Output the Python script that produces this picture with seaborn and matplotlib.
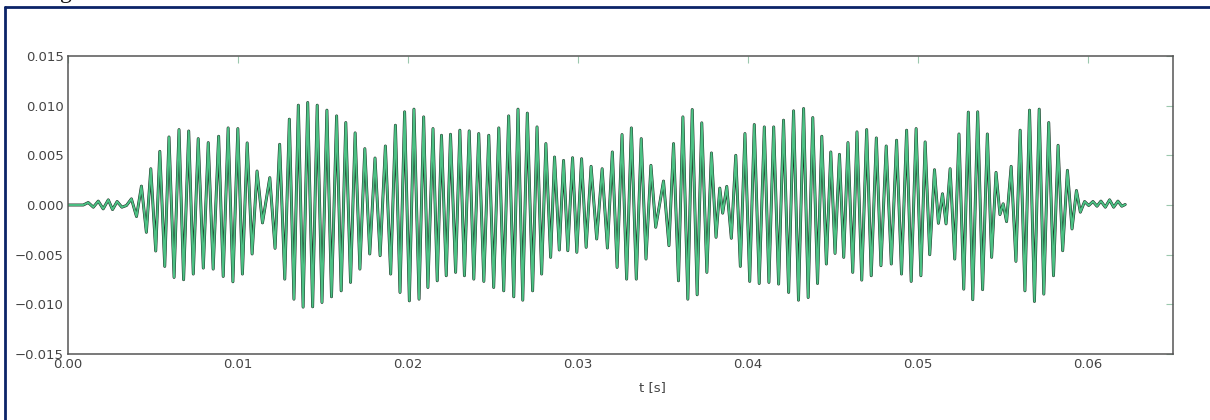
import numpy as np
import matplotlib
matplotlib.use("Agg")
import matplotlib.pyplot as plt
import matplotlib.patheffects as pe
from matplotlib.lines import Line2D
import seaborn as sns

# extrema of the recorded signal, read off the picture
# time in ms, amplitude in units of 1e-3
t_ms = [
    0.00, 0.90, 1.19, 1.49, 1.78, 2.07, 2.37, 2.62, 2.89, 3.17, 3.44, 3.73, 4.03, 4.32,
    4.61, 4.87, 5.16, 5.40, 5.69, 5.94, 6.24, 6.53, 6.80, 7.10, 7.37, 7.66, 7.96, 8.25,
    8.54, 8.86, 9.13, 9.42, 9.70, 9.99, 10.26, 10.54, 10.83, 11.12, 11.44, 11.87, 12.18,
    12.45, 12.75, 13.02, 13.29, 13.55, 13.83, 14.10, 14.39, 14.66, 14.94, 15.23, 15.50,
    15.80, 16.07, 16.34, 16.62, 16.89, 17.17, 17.46, 17.75, 18.06, 18.36, 18.67, 18.98,
    19.26, 19.53, 19.80, 20.08, 20.35, 20.65, 20.92, 21.17, 21.47, 21.72, 21.97, 22.25,
    22.50, 22.80, 23.05, 23.32, 23.60, 23.87, 24.16, 24.46, 24.75, 25.04, 25.34, 25.63,
    25.92, 26.22, 26.47, 26.75, 27.02, 27.33, 27.59, 27.86, 28.11, 28.39, 28.62, 28.90,
    29.15, 29.40, 29.68, 29.93, 30.21, 30.48, 30.77, 31.10, 31.42, 31.73, 32.02, 32.30,
    32.59, 32.86, 33.14, 33.43, 33.72, 34.00, 34.29, 34.57, 35.03, 35.35, 35.62, 35.91,
    36.17, 36.46, 36.72, 37.01, 37.28, 37.58, 37.85, 38.12, 38.34, 38.51, 38.75, 39.02,
    39.28, 39.55, 39.82, 40.10, 40.37, 40.66, 40.96, 41.23, 41.51, 41.80, 42.09, 42.39,
    42.68, 42.97, 43.27, 43.54, 43.81, 44.09, 44.34, 44.61, 44.87, 45.12, 45.38, 45.63,
    45.88, 46.16, 46.41, 46.69, 46.98, 47.25, 47.55, 47.82, 48.13, 48.43, 48.74, 49.03,
    49.33, 49.60, 49.89, 50.17, 50.42, 50.69, 50.97, 51.20, 51.44, 51.65, 51.89, 52.16,
    52.41, 52.69, 52.96, 53.22, 53.51, 53.80, 54.08, 54.33, 54.59, 54.82, 55.01, 55.21,
    55.48, 55.76, 56.01, 56.29, 56.56, 56.85, 57.13, 57.40, 57.69, 57.97, 58.24, 58.51,
    58.79, 59.06, 59.32, 59.55, 59.80, 60.04, 60.29, 60.53, 60.76, 61.02, 61.27, 61.51,
    61.76, 61.99, 62.19,
]
amp_milli = [
    0.00, 0.00, 0.25, -0.22, 0.39, -0.39, 0.52, -0.46, 0.35, -0.22, -0.05, 0.62, -1.16, 1.90,
    -2.75, 3.65, -4.63, 5.40, -6.18, 6.85, -7.29, 7.59, -7.52, 7.45, -6.95, 6.68, -6.35, 6.28,
    -6.45, 6.92, -7.19, 7.76, -7.73, 7.69, -6.95, 6.25, -4.93, 3.42, -1.80, 2.75, -4.36,
    6.11, -7.46, 8.64, -9.48, 10.05, -10.28, 10.32, -10.25, 10.05, -9.81, 9.55, -9.24,
    8.97, -8.64, 8.30, -7.79, 7.26, -6.45, 5.67, -4.93, 4.73, -5.10, 5.94, -6.95,
    8.03, -8.80, 9.38, -9.65, 9.65, -9.48, 8.87, -8.30, 7.69, -7.63, 7.02, -7.12,
    7.12, -6.78, 7.53, -7.12, 7.46, -7.46, 7.19, -7.69, 7.02, -8.30, 7.76, -8.64,
    8.97, -9.24, 9.65, -9.58, 9.25, -8.64, 7.86, -6.95, 6.18, -5.27, 4.83, -4.53,
    4.49, -4.60, 4.76, -4.76, 4.66, -4.26, 3.89, -3.42, 3.65, -4.33, 5.34, -6.28,
    7.09, -7.46, 7.76, -7.46, 6.68, -5.44, 3.99, -2.24, 2.41, -4.09, 6.18, -7.63,
    8.87, -9.48, 9.61, -9.04, 8.27, -6.78, 5.24, -3.25, 1.70, -0.82, 1.87, -3.35,
    5.00, -6.18, 7.19, -7.69, 8.10, -7.90, 7.86, -7.79, 7.86, -7.96, 8.54, -8.80,
    9.48, -9.58, 9.71, -9.31, 8.80, -7.90, 6.92, -5.94, 5.34, -4.87, 5.10, -5.27,
    6.28, -6.78, 7.36, -7.56, 7.59, -7.12, 6.75, -6.11, 5.94, -5.94, 6.52, -6.95,
    7.53, -7.69, 7.69, -7.12, 6.35, -5.00, 3.55, -1.84, 1.13, -1.90, 3.65, -5.44,
    7.15, -8.47, 9.35, -9.53, 9.38, -8.52, 7.15, -5.27, 3.28, -0.96, 0.12, -1.67,
    3.89, -5.67, 7.53, -8.64, 9.55, -9.71, 9.65, -8.97, 8.30, -7.12, 6.01, -4.60,
    3.49, -2.41, 1.46, -0.72, 0.35, -0.05, 0.35, -0.12, 0.39, -0.22, 0.52, -0.22,
    0.39, -0.12, 0.05,
]

x_ticks = [0.00, 0.01, 0.02, 0.03, 0.04, 0.05, 0.06]
y_ticks = [-0.015, -0.010, -0.005, 0.000, 0.005, 0.010, 0.015]

t = np.array(t_ms) / 1000.0
sig = np.array(amp_milli) / 1000.0

sns.set_style("white")
plt.rcParams['font.family'] = ['DejaVu Sans']

fig = plt.figure(figsize=(12.1, 4.2), dpi=100)
ax = fig.add_axes([68 / 1210, 1 - 354 / 420, (1173 - 68) / 1210, (354 - 56) / 420])

sns.lineplot(x=t, y=sig, ax=ax, sort=False, estimator=None, color='#4cc184',
             linewidth=1.4,
             path_effects=[pe.Stroke(linewidth=2.1, foreground='#1c2b22'), pe.Normal()])

ax.set_xlim(0, 0.065)
ax.set_ylim(-0.015, 0.015)
ax.set_xticks(x_ticks)
ax.set_xticklabels([f"{v:.2f}" for v in x_ticks])
ax.set_yticks(y_ticks)
ax.set_yticklabels([f"{v:.3f}".replace("-", "\u2212") for v in y_ticks])
ax.tick_params(direction='in', top=True, right=True, length=5, width=0.8,
               color='#9cc8ae', labelsize=9.5, labelcolor='#444444', pad=3)
for s in ax.spines.values():
    s.set_color('#555555')
    s.set_linewidth(1.1)

ax.set_xlabel("t [s]", fontsize=9.5, color='#444444')
ax.xaxis.set_label_coords(0.529, -0.09)
ax.set_ylabel("")

# page frame and cropped caption letter
fig.add_artist(Line2D([5 / 1210, 1], [1 - 6.5 / 420, 1 - 6.5 / 420],
                      transform=fig.transFigure, color='#0c2468', linewidth=2))
fig.add_artist(Line2D([5 / 1210, 5 / 1210], [0, 1 - 6.5 / 420],
                      transform=fig.transFigure, color='#0c2468', linewidth=2))
fig.text(66 / 1210, 1.0 + 2 / 420, "g", fontsize=17, family='Liberation Serif',
         ha='center', va='baseline', color='#111111')

fig.savefig("out.png", dpi=100)
